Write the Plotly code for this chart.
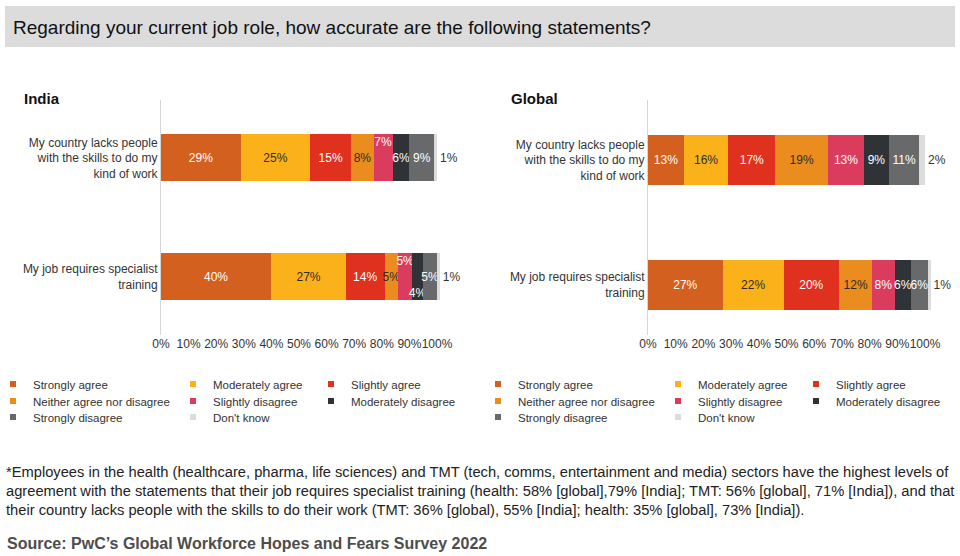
import plotly.graph_objects as go

W, H = 960, 556

# ---------------- data ----------------
statements = ["My country lacks people with the skills to do my kind of work",
              "My job requires specialist training"]
statement_ticks = ["My country lacks people<br>with the skills to do my<br>kind of work",
                   "My job requires specialist<br>training"]
responses = ["Strongly agree", "Moderately agree", "Slightly agree",
             "Neither agree nor disagree", "Slightly disagree",
             "Moderately disagree", "Strongly disagree", "Don't know"]

india_skills = [29, 25, 15, 8, 7, 6, 9, 1]
india_training = [40, 27, 14, 5, 5, 4, 5, 1]
global_skills = [13, 16, 17, 19, 13, 9, 11, 2]
global_training = [27, 22, 20, 12, 8, 6, 6, 1]

x_ticks = list(range(0, 101, 10))
x_tick_labels = [f"{t}%" for t in x_ticks]

# ---------------- styles ----------------
FONT = "Liberation Sans, Arial, Helvetica, sans-serif"
colors = ["#D4601F", "#FBB21A", "#E0301E", "#EB8C1E",
          "#DB3C5E", "#2F3337", "#68696B", "#DCDCDC"]
text_colors = ["#FFFFFF", "#2D2D2D", "#FFFFFF", "#2D2D2D",
               "#FFFFFF", "#FFFFFF", "#FFFFFF", "#333333"]
# labels of very narrow segments are staggered up/down as in the original
label_nudges = {("India", 0, "Slightly disagree"): "up",
                ("India", 1, "Slightly disagree"): "up",
                ("India", 1, "Moderately disagree"): "down"}
NB = "\u00a0"

XMAX = 103
panels = [
    dict(name="India", skills=india_skills, training=india_training,
         xa="x", ya="y", xdom=[161 / W, (161 + 2.76 * XMAX) / W], yrange=[1.488, -0.487],
         legend_text_x=[32, 212, 350], title_x=22),
    dict(name="Global", skills=global_skills, training=global_training,
         xa="x2", ya="y2", xdom=[648 / W, (648 + 2.77 * XMAX) / W], yrange=[1.40, -0.48],
         legend_text_x=[517, 697, 835], title_x=509),
]
legend_rows_y = [384, 401, 417]
ydom = [1 - 335 / H, 1 - 100 / H]


def label(panel, row, resp, v):
    t = f"{v}%"
    nudge = label_nudges.get((panel, row, resp))
    if nudge == "up":
        return t + "<br>" + NB + "<br>" + NB
    if nudge == "down":
        return NB + "<br>" + NB + "<br>" + t
    return t


fig = go.Figure()
legend_layouts = {}
legend_counter = 0

for p in panels:
    for i, resp in enumerate(responses):
        vals = [p["skills"][i], p["training"][i]]
        fig.add_trace(go.Bar(
            x=vals, y=statements, orientation="h",
            marker=dict(color=colors[i], line=dict(width=0)),
            width=0.395,
            text=[label(p["name"], r, resp, v) for r, v in enumerate(vals)],
            textposition="inside" if i < len(responses) - 1 else "outside",
            insidetextanchor="middle",
            textangle=0,
            constraintext="none",
            textfont=dict(family=FONT, size=12, color=text_colors[i]),
            cliponaxis=False,
            showlegend=False,
            name=resp,
            xaxis=p["xa"], yaxis=p["ya"],
            hovertemplate="%{y}<br>" + resp + ": %{x}%<extra></extra>",
        ))
    # legend entries (one small legend per entry so they sit in a grid)
    for i, resp in enumerate(responses):
        legend_counter += 1
        lname = "legend" if legend_counter == 1 else f"legend{legend_counter}"
        fig.add_trace(go.Scatter(
            x=[None], y=[None], mode="markers",
            marker=dict(symbol="square", size=6, color=colors[i]),
            name=resp, legend=lname, showlegend=True,
            xaxis=p["xa"], yaxis=p["ya"], hoverinfo="skip",
        ))
        col, row = i % 3, i // 3
        legend_layouts[lname] = dict(
            x=(p["legend_text_x"][col] - 39) / W, xanchor="left",
            y=1 - legend_rows_y[row] / H, yanchor="middle",
            orientation="v", bgcolor="rgba(0,0,0,0)", borderwidth=0,
            font=dict(family=FONT, size=11.5, color="#333333"),
            itemclick=False, itemdoubleclick=False,
        )

axis_common_x = dict(range=[0, XMAX], tickvals=x_ticks, ticktext=x_tick_labels,
                     showgrid=False, zeroline=False, showline=False,
                     ticks="", tickangle=0,
                     tickfont=dict(family=FONT, size=12, color="#333333"),
                     fixedrange=True)
axis_common_y = dict(type="category", categoryorder="array", categoryarray=statements,
                     tickvals=statements, ticktext=statement_ticks,
                     showgrid=False, zeroline=False, showline=True,
                     linecolor="#D6D6D6", linewidth=1, ticks="",
                     tickfont=dict(family=FONT, size=12, color="#333333"),
                     domain=ydom, fixedrange=True)

fig.update_layout(
    width=W, height=H,
    margin=dict(l=0, r=0, t=0, b=0, autoexpand=False),
    paper_bgcolor="white", plot_bgcolor="white",
    barmode="stack",
    font=dict(family=FONT, color="#333333"),
    xaxis=dict(domain=panels[0]["xdom"], anchor="y", **axis_common_x),
    yaxis=dict(range=panels[0]["yrange"], anchor="x", **axis_common_y),
    xaxis2=dict(domain=panels[1]["xdom"], anchor="y2", **axis_common_x),
    yaxis2=dict(range=panels[1]["yrange"], anchor="x2", **axis_common_y),
    **legend_layouts,
)

# header band
fig.add_shape(type="rect", xref="paper", yref="paper",
              x0=5 / W, x1=955 / W, y0=1 - 47 / H, y1=1 - 6 / H,
              fillcolor="#DCDCDC", line=dict(width=0), layer="below")

annotations = [
    dict(text="Regarding your current job role, how accurate are the following statements?",
         x=11 / W, y=1 - 27 / H, xanchor="left", yanchor="middle",
         font=dict(family=FONT, size=19, color="#111111")),
]
for p in panels:
    annotations.append(dict(text=f"<b>{p['name']}</b>", x=p["title_x"] / W, y=1 - 98 / H,
                            xanchor="left", yanchor="middle",
                            font=dict(family=FONT, size=15, color="#111111")))
annotations.append(dict(
    text=("*Employees in the health (healthcare, pharma, life sciences) and TMT (tech, comms, entertainment and media) sectors have the highest levels of<br>"
          "agreement with the statements that their job requires specialist training (health: 58% [global],79% [India]; TMT: 56% [global], 71% [India]), and that<br>"
          "their country lacks people with the skills to do their work (TMT: 36% [global), 55% [India]; health: 35% [global], 73% [India])."),
    x=4 / W, y=1 - 462 / H, xanchor="left", yanchor="top", align="left",
    font=dict(family=FONT, size=14.7, color="#222222")))
annotations.append(dict(
    text="<b>Source: PwC’s Global Workforce Hopes and Fears Survey 2022</b>",
    x=5 / W, y=1 - 543 / H, xanchor="left", yanchor="middle",
    font=dict(family=FONT, size=16, color="#4D4D4D")))
for a in annotations:
    a.update(xref="paper", yref="paper", showarrow=False)
fig.update_layout(annotations=annotations)

fig.write_html("out.html", config={"displayModeBar": False},
               post_script="document.body.style.margin='0px';")
